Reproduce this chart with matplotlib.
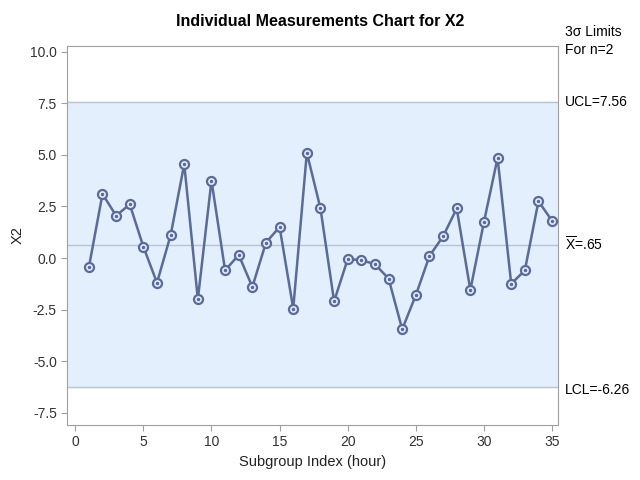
import numpy as np
import matplotlib; matplotlib.use("Agg")
import matplotlib.pyplot as plt

plt.rcParams["font.family"] = ["Liberation Sans", "DejaVu Sans"]
plt.rcParams["axes.unicode_minus"] = False
plt.rcParams["mathtext.fontset"] = "custom"
plt.rcParams["mathtext.rm"] = "Liberation Sans"

# data
hours = list(range(1, 36))
x2 = [-0.45, 3.1, 2.05, 2.6, 0.55, -1.2, 1.1, 4.55, -2.0, 3.75,
      -0.6, 0.15, -1.4, 0.75, 1.5, -2.45, 5.1, 2.4, -2.1, -0.05,
      -0.1, -0.3, -1.0, -3.45, -1.8, 0.1, 1.05, 2.4, -1.55, 1.75,
      4.85, -1.25, -0.6, 2.75, 1.8]
ucl, center, lcl = 7.56, 0.65, -6.26
xticks = [0, 5, 10, 15, 20, 25, 30, 35]
yticks = [-7.5, -5.0, -2.5, 0.0, 2.5, 5.0, 7.5, 10.0]

line_col = "#5B6A96"
band_col = "#E3EFFC"
limit_col = "#B8C4D4"
frame_col = "#A0A0A0"

fig = plt.figure(figsize=(6.4, 4.8), dpi=100)
ax = fig.add_axes([0.105, 0.115, 0.767, 0.79])

ax.axhspan(lcl, ucl, color=band_col, zorder=0)
for v in (ucl, center, lcl):
    ax.axhline(v, color=limit_col, lw=1.0, zorder=1)

ax.plot(hours, x2, color=line_col, lw=1.8, zorder=3,
        marker="o", ms=6.5, mfc=band_col, mec=line_col, mew=1.6)
ax.plot(hours, x2, ls="none", marker="o", ms=1.5, color=line_col, zorder=4)

ax.set_xlim(-0.59, 35.44)
ax.set_ylim(-8.08, 10.29)
ax.set_xticks(xticks)
ax.set_yticks(yticks)
ax.set_yticklabels([f"{t:.1f}" for t in yticks])

for s in ax.spines.values():
    s.set_color(frame_col)
ax.tick_params(colors="#333333", labelsize=10, length=4)
ax.tick_params(axis="both", color=frame_col)

ax.set_xlabel("Subgroup Index (hour)", fontsize=10.5, color="#222222")
ax.set_ylabel("X2", fontsize=10.5, color="#222222")
fig.text(0.5, 0.955, "Individual Measurements Chart for X2", fontsize=11.5,
         fontweight="bold", ha="center", va="center")

tx = 35.95
ax.text(tx, 10.95, "3\u03c3 Limits", fontsize=10, va="center", clip_on=False)
ax.text(tx, 10.1, "For n=2", fontsize=10, va="center", clip_on=False)
ax.text(tx, ucl, f"UCL={ucl:.2f}", fontsize=10, va="center", clip_on=False)
ax.text(tx, center, r"$\overline{\mathrm{X}}$=.65", fontsize=10, va="center",
        clip_on=False)
ax.text(tx, lcl - 0.15, f"LCL={lcl:.2f}", fontsize=10, va="center", clip_on=False)

fig.savefig("out.png", dpi=100)
